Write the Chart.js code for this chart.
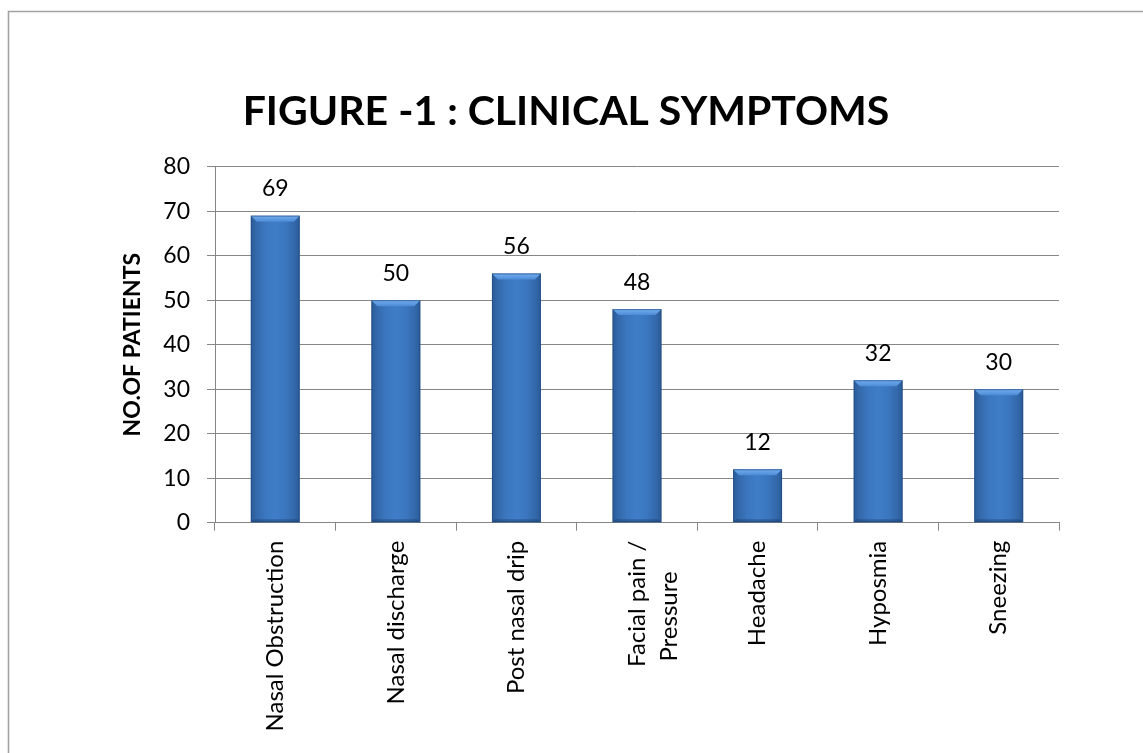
<!DOCTYPE html>
<html>
<head>
<meta charset="utf-8">
<script src="https://cdn.jsdelivr.net/npm/chart.js@4.4.0/dist/chart.umd.min.js"></script>
<style>
  html, body { margin: 0; padding: 0; background: #ffffff; }
  #wrap { width: 1143px; height: 753px; position: relative; }
</style>
</head>
<body>
<div id="wrap"><canvas id="c" width="1143" height="753"></canvas></div>
<script>
const chartTitle = 'FIGURE -1 : CLINICAL SYMPTOMS';
const yAxisTitle = 'NO.OF PATIENTS';
const categories = ['Nasal Obstruction', 'Nasal discharge', 'Post nasal drip', ['Facial pain /', 'Pressure     '], 'Headache', 'Hyposmia', 'Sneezing'];
const patients = [69, 50, 56, 48, 12, 32, 30];
const yTicks = [0, 10, 20, 30, 40, 50, 60, 70, 80];

const FONT = 'Lato, "Noto Sans", sans-serif';
const BAR_PCT = 0.406;

function barGradient(context) {
  const chart = context.chart;
  const xs = chart.scales && chart.scales.x;
  if (!xs || !chart.chartArea) return '#3a74bb';
  const cx = xs.getPixelForValue(context.dataIndex);
  const w = (xs.width / categories.length) * BAR_PCT;
  const g = chart.ctx.createLinearGradient(cx - w / 2, 0, cx + w / 2, 0);
  g.addColorStop(0, '#2a5b98');
  g.addColorStop(0.12, '#3469ab');
  g.addColorStop(0.3, '#3b77c0');
  g.addColorStop(0.5, '#3f7dc8');
  g.addColorStop(0.7, '#3b77c0');
  g.addColorStop(0.88, '#3469ab');
  g.addColorStop(1, '#2a5b98');
  return g;
}

const framePlugin = {
  id: 'frame',
  beforeDraw(chart) {
    const ctx = chart.ctx;
    ctx.save();
    ctx.fillStyle = '#ffffff';
    ctx.fillRect(0, 0, chart.width, chart.height);
    ctx.strokeStyle = '#a3a3a3';
    ctx.lineWidth = 1.6;
    ctx.beginPath();
    ctx.moveTo(8.5, chart.height);
    ctx.lineTo(8.5, 11.5);
    ctx.lineTo(chart.width, 11.5);
    ctx.stroke();
    ctx.restore();
  }
};

const bevelPlugin = {
  id: 'bevel',
  afterDatasetsDraw(chart) {
    const ctx = chart.ctx;
    const meta = chart.getDatasetMeta(0);
    ctx.save();
    meta.data.forEach((el) => {
      const { x, y, base, width } = el.getProps(['x', 'y', 'base', 'width'], true);
      const l = x - width / 2, r = x + width / 2;
      const b = 6;
      const tg = ctx.createLinearGradient(0, y, 0, y + b);
      tg.addColorStop(0, '#74aef0');
      tg.addColorStop(1, '#4c8bd6');
      ctx.fillStyle = tg;
      ctx.beginPath();
      ctx.moveTo(l, y);
      ctx.lineTo(r, y);
      ctx.lineTo(r - b, y + b);
      ctx.lineTo(l + b, y + b);
      ctx.closePath();
      ctx.fill();
      ctx.fillStyle = 'rgba(20,50,90,0.35)';
      ctx.beginPath();
      ctx.moveTo(l, base);
      ctx.lineTo(r, base);
      ctx.lineTo(r - 3, base - 3);
      ctx.lineTo(l + 3, base - 3);
      ctx.closePath();
      ctx.fill();
      ctx.strokeStyle = 'rgba(30,70,120,0.6)';
      ctx.lineWidth = 1;
      ctx.strokeRect(l + 0.5, y + 0.5, width - 1, base - y - 1);
    });
    ctx.restore();
  }
};

const valueLabelPlugin = {
  id: 'valueLabels',
  afterDatasetsDraw(chart) {
    const ctx = chart.ctx;
    const meta = chart.getDatasetMeta(0);
    const data = chart.data.datasets[0].data;
    ctx.save();
    ctx.font = '23px ' + FONT;
    ctx.fillStyle = '#000000';
    ctx.textAlign = 'center';
    ctx.textBaseline = 'middle';
    meta.data.forEach((el, i) => {
      const { x, y } = el.getProps(['x', 'y'], true);
      ctx.fillText(String(data[i]), x, y - 27);
    });
    ctx.restore();
  }
};

new Chart(document.getElementById('c'), {
  type: 'bar',
  data: {
    labels: categories,
    datasets: [{
      data: patients,
      backgroundColor: barGradient,
      borderWidth: 0,
      barPercentage: BAR_PCT,
      categoryPercentage: 1.0
    }]
  },
  options: {
    responsive: false,
    animation: false,
    events: [],
    layout: { padding: { left: 73, right: 84, top: 0, bottom: 0 } },
    plugins: {
      legend: { display: false },
      tooltip: { enabled: false },
      title: {
        display: true,
        text: chartTitle,
        color: '#000000',
        font: { family: FONT, size: 41, weight: 'bold', lineHeight: 1.2 },
        padding: { top: 87, bottom: 30.5 }
      }
    },
    scales: {
      x: {
        offset: true,
        grid: {
          offset: true,
          drawOnChartArea: false,
          drawTicks: true,
          tickLength: 8,
          color: '#868686'
        },
        border: { display: true, color: '#868686', width: 1 },
        ticks: {
          minRotation: 90,
          maxRotation: 90,
          autoSkip: false,
          padding: 10,
          color: '#000000',
          font: { family: FONT, size: 24, lineHeight: 1.35 }
        },
        afterFit(scale) { scale.height = 230.3; }
      },
      y: {
        min: 0,
        max: 80,
        afterBuildTicks(scale) { scale.ticks = yTicks.map(v => ({ value: v })); },
        grid: {
          color: '#868686',
          lineWidth: 1,
          drawTicks: true,
          tickLength: 8
        },
        border: { display: true, color: '#868686', width: 1 },
        ticks: {
          padding: 17,
          color: '#000000',
          font: { family: FONT, size: 23 }
        },
        title: {
          display: true,
          text: yAxisTitle,
          color: '#000000',
          font: { family: FONT, size: 23, weight: 'bold', lineHeight: 1.2 },
          padding: { top: 46, bottom: 0 }
        },
        afterFit(scale) { scale.width = 142; }
      }
    }
  },
  plugins: [framePlugin, bevelPlugin, valueLabelPlugin]
});
</script>
</body>
</html>
